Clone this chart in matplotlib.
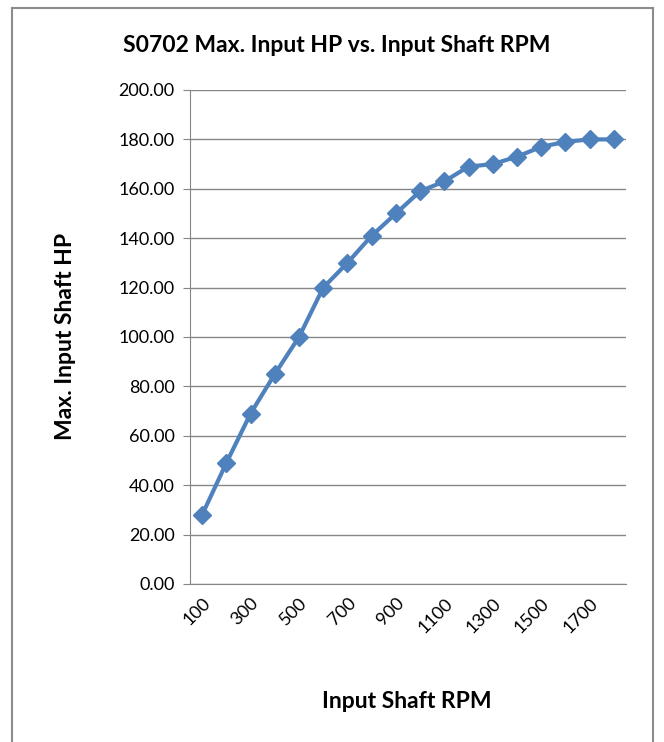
import matplotlib.pyplot as plt
from matplotlib.lines import Line2D

rpm = [100, 200, 300, 400, 500, 600, 700, 800, 900, 1000,
       1100, 1200, 1300, 1400, 1500, 1600, 1700, 1800]
max_hp = [28, 49, 69, 85, 100, 120, 130, 141, 150, 159,
          163, 169, 170, 173, 177, 179, 180, 180]
y_ticks = [0, 20, 40, 60, 80, 100, 120, 140, 160, 180, 200]

plt.rcParams["font.family"] = ["Lato", "DejaVu Sans"]

fig = plt.figure(figsize=(6.64, 7.42), dpi=100)
ax = fig.add_axes([190 / 664, 1 - 584 / 742, 436 / 664, 494 / 742])

x = list(range(len(rpm)))
ax.plot(x, max_hp, color="#4F81BD", linewidth=3.0, marker="D",
        markersize=9.5, zorder=3)

ax.set_xlim(-0.5, len(rpm) - 0.5)
ax.set_ylim(0, 200)
ax.set_yticks(y_ticks)
ax.set_yticklabels([f"{v:.2f}" for v in y_ticks], fontsize=13)
ax.set_xticks(x[::2])
ax.set_xticklabels([str(r) for r in rpm[::2]], rotation=45, ha="right",
                   rotation_mode="anchor", fontsize=13)
ax.tick_params(axis="x", length=0, pad=8)
ax.tick_params(axis="y", length=5, color="#868686", pad=6)
ax.grid(axis="y", color="#868686", linewidth=1)
ax.set_axisbelow(True)
for side in ["top", "right"]:
    ax.spines[side].set_visible(False)
for side in ["left", "bottom"]:
    ax.spines[side].set_color("#868686")

fig.text(337 / 664, 1 - 45 / 742,
         "S0702 Max. Input HP vs. Input Shaft RPM",
         ha="center", va="center", fontsize=16.5, fontweight="bold")
fig.text(66 / 664, 1 - 336 / 742, "Max. Input Shaft HP", rotation=90,
         ha="center", va="center", fontsize=16.5, fontweight="bold")
fig.text(407 / 664, 1 - 702 / 742, "Input Shaft RPM",
         ha="center", va="center", fontsize=16.5, fontweight="bold")

# outer chart border
bx0, bx1, by1 = 12 / 664, 653 / 664, 1 - 8 / 742
for xs, ys in [([bx0, bx0], [0, by1]), ([bx0, bx1], [by1, by1]),
               ([bx1, bx1], [by1, 0])]:
    fig.add_artist(Line2D(xs, ys, color="#8c8c8c", linewidth=1.5))

plt.savefig("out.png", dpi=100)
